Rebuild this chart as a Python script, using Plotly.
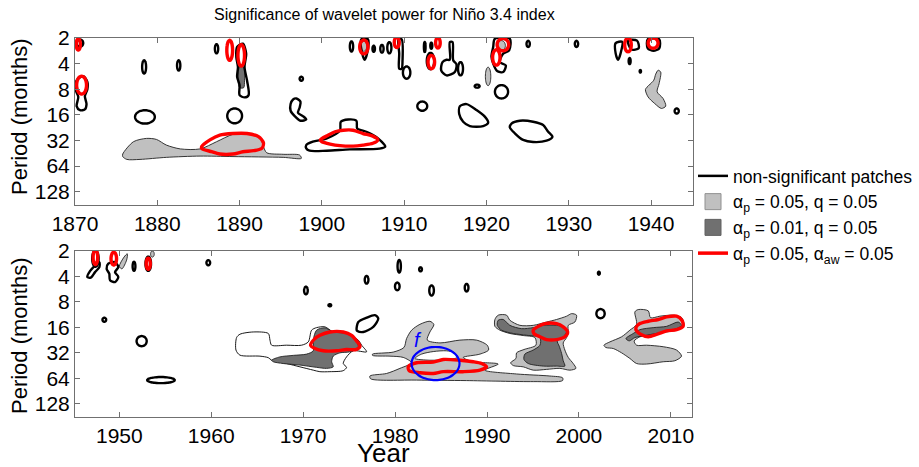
import numpy as np
import plotly.graph_objects as go

# ---------------- data: patch outlines as (year, log2(period in months)) ----------------
# ---- top panel (1870-1945)
TOP_LIGHT = [
    [(1875.8,5.53),(1877.1,5.05),(1878.7,4.92),(1879.9,4.96),(1881.1,5.18),(1882.8,5.33),(1885.2,5.33),
     (1887.2,5.05),(1889.2,4.76),(1890.9,4.72),(1892.5,4.88),(1892.9,5.24),(1893.3,5.48),(1895.3,5.54),
     (1897.3,5.57),(1897.5,5.70),(1895.3,5.66),(1889.2,5.63),(1885.2,5.61),(1881.1,5.66),(1877.9,5.74),
     (1876.3,5.74),(1875.8,5.63)],
    [(1940.86,2.26),(1941.18,2.33),(1940.98,2.78),(1940.74,3.10),(1941.46,3.36),(1941.79,3.66),(1941.26,3.75),
     (1940.45,3.56),(1939.64,3.30),(1939.32,3.01),(1939.76,2.84),(1940.33,2.65),(1940.57,2.41)],
]
TOP_LIGHT_ELL = [(1920.2,2.50,0.33,0.36),(1905.1,1.32,0.35,0.2),(1921.8,1.3,0.5,0.2)]
TOP_DARK = [
    [(1890.0,2.13),(1890.5,2.13),(1890.6,2.65),(1890.5,2.94),(1890.0,2.94),(1889.8,2.52)],
]
TOP_BLACK = [
    [(1870.2,2.65),(1871.0,2.49),(1871.5,2.71),(1871.5,3.01),(1871.2,3.27),(1871.4,3.58),(1871.2,3.79),
     (1870.6,3.82),(1870.2,3.66),(1870.4,3.30),(1870.1,3.04)],
    [(1889.7,1.35),(1890.4,1.22),(1890.8,1.61),(1890.6,2.13),(1890.9,2.65),(1891.1,3.23),(1890.6,3.32),
     (1890.0,3.23),(1890.0,2.84),(1889.7,2.52),(1889.8,2.13),(1889.6,1.74)],
    [(1896.9,3.36),(1897.4,3.49),(1897.3,3.71),(1897.1,3.92),(1897.7,4.05),(1898.1,4.18),(1897.4,4.23),
     (1896.7,4.05),(1896.2,3.84),(1896.2,3.58),(1896.5,3.40)],
    [(1898.1,5.18),(1898.9,5.05),(1900.6,4.92),(1902.2,4.62),(1902.3,4.27),(1903.2,4.18),(1904.2,4.23),
     (1904.3,4.53),(1905.4,4.66),(1906.6,4.86),(1907.7,5.24),(1907.0,5.32),(1903.4,5.35),(1900.6,5.40),
     (1898.5,5.40),(1898.1,5.31)],
    [(1915.55,1.16),(1915.88,1.16),(1915.96,1.87),(1916.36,2.03),(1916.16,2.33),(1915.15,2.46),(1914.5,2.26),
     (1914.66,1.94),(1915.15,1.85),(1915.55,1.85)],
    [(1921.02,1.03),(1922.84,1.03),(1922.76,1.48),(1922.03,1.61),(1921.63,1.94),(1922.35,2.07),(1922.03,2.33),
     (1921.3,2.29),(1920.82,2.00),(1920.61,1.72),(1920.82,1.35)],
    [(1916.77,3.66),(1917.58,3.58),(1918.79,3.81),(1919.8,4.07),(1920.21,4.31),(1919.6,4.44),(1917.98,4.44),
     (1917.17,4.27),(1916.69,3.97)],
    [(1923.04,4.34),(1924.06,4.23),(1925.67,4.27),(1926.89,4.40),(1927.5,4.66),(1928.02,4.86),(1927.3,5.01),
     (1925.67,5.06),(1924.46,4.98),(1923.45,4.72),(1922.84,4.49)],
    [(1909.3,1.05),(1909.7,1.05),(1909.8,1.9),(1909.7,2.2),(1909.4,2.2),(1909.4,1.6)],
    [(1904.8,1.05),(1905.6,1.05),(1905.5,1.6),(1905.2,1.85),(1904.9,1.6)],
    [(1935.7,1.2),(1936.5,1.15),(1936.3,1.6),(1936.0,1.85),(1935.7,1.6)],
    [(1937.2,1.1),(1938.3,1.1),(1938.5,1.4),(1937.6,1.45)],
    [(1939.6,1.05),(1941.0,1.05),(1941.0,1.4),(1940.3,1.5),(1939.6,1.4)],
]
TOP_BLACK_ELL = [
    (1878.5,4.08,1.2,0.26),(1889.4,4.04,0.9,0.29),(1878.4,2.13,0.24,0.26),(1882.6,2.07,0.2,0.2),
    (1887.2,1.42,0.2,0.18),(1897.5,2.59,0.2,0.08),(1912.2,3.66,0.6,0.18),(1903.6,1.33,0.2,0.2),
    (1906.3,1.42,0.15,0.12),(1907.3,1.42,0.2,0.15),(1908.2,1.38,0.25,0.22),(1910.3,2.35,0.45,0.24),
    (1913.2,1.9,0.45,0.32),(1916.85,2.2,0.3,0.26),(1918.87,2.88,0.3,0.06),(1921.83,3.10,0.8,0.26),
    (1925.07,1.23,0.2,0.12),(1930.94,1.23,0.2,0.12),(1937.4,1.9,0.12,0.12),(1938.7,2.3,0.08,0.05),
    (1943.12,3.85,0.25,0.1),(1870.6,1.2,0.4,0.14),(1912.5,1.35,0.1,0.2),(1913.3,1.3,0.12,0.12),
]
TOP_RED = [
    [(1885.4,5.24),(1886.4,4.98),(1887.6,4.79),(1889.2,4.73),(1890.9,4.73),(1892.3,4.85),(1892.9,5.09),
     (1892.7,5.31),(1891.7,5.40),(1890.4,5.44),(1889.2,5.53),(1887.6,5.53),(1886.6,5.44),(1885.4,5.31)],
    [(1899.8,4.98),(1900.8,4.79),(1901.6,4.66),(1902.6,4.60),(1903.8,4.60),(1905.0,4.73),(1906.2,4.83),
     (1906.8,4.98),(1906.2,5.11),(1905.0,5.18),(1903.8,5.22),(1902.2,5.20),(1901.0,5.14),(1900.0,5.05)],
]
TOP_RED_ELL = [
    (1870.8,2.84,0.6,0.35),(1870.4,1.25,0.25,0.22),(1888.8,1.48,0.35,0.39),(1890.2,1.68,0.4,0.42),
    (1905.1,1.35,0.5,0.27),(1909.1,1.17,0.3,0.2),(1913.3,1.94,0.4,0.26),(1914.1,1.19,0.28,0.2),
    (1922.0,1.26,0.7,0.24),(1921.2,1.76,0.45,0.3),(1937.2,1.27,0.4,0.27),(1940.25,1.2,0.6,0.2),
]

# ---- bottom panel (1945-2012)
BOT_OUTLINE = [
    [(1962.76,4.40),(1963.12,4.27),(1964.57,4.18),(1966.21,4.24),(1966.39,4.50),(1966.57,4.70),(1968.2,4.70),
     (1969.83,4.70),(1970.56,4.57),(1970.92,4.11),(1971.46,4.01),(1972.37,3.98),(1973.27,4.18),(1974.72,4.24),
     (1976.0,4.50),(1976.36,4.70),(1976.9,4.96),(1975.45,4.92),(1974.72,5.16),(1974.36,5.42),(1974.72,5.57),
     (1974.36,5.70),(1972.91,5.74),(1971.82,5.74),(1971.1,5.68),(1969.65,5.55),(1968.2,5.42),(1966.57,5.29),
     (1966.21,5.19),(1965.3,5.13),(1963.12,5.09),(1962.69,4.89)],
]
BOT_LIGHT = [
    [(1977.55,5.05),(1979.8,4.97),(1980.96,4.79),(1981.25,4.44),(1981.8,4.11),(1982.7,3.88),(1983.79,3.76),
     (1984.22,3.89),(1983.79,4.18),(1983.5,4.50),(1984.88,4.61),(1987.05,4.50),(1988.86,4.50),(1990.02,4.70),
     (1990.17,4.89),(1989.23,5.05),(1987.41,5.18),(1988.5,5.35),(1991.22,5.44),(1989.77,5.68),(1993.21,5.83),
     (1996.84,5.91),(1998.22,5.98),(1998.22,6.09),(1995.03,6.13),(1987.77,6.09),(1982.34,6.07),(1977.34,6.02),
     (1977.26,5.91),(1979.08,5.81),(1980.53,5.61),(1981.8,5.39),(1980.89,5.18),(1979.44,5.13),(1977.55,5.10)],
    [(1990.86,3.69),(1991.22,3.52),(1992.13,3.52),(1992.49,3.72),(1993.58,3.92),(1995.03,3.92),(1996.48,3.79),
     (1997.57,3.69),(1998.66,3.56),(1999.2,3.46),(1999.74,3.52),(1999.56,3.79),(1998.84,3.92),(1998.84,4.18),
     (1998.66,4.40),(1998.29,4.61),(1998.47,4.89),(1998.84,5.18),(1999.38,5.42),(1999.67,5.61),(1999.02,5.68),
     (1997.93,5.61),(1996.48,5.65),(1995.03,5.68),(1993.94,5.55),(1992.86,5.50),(1992.57,5.39),(1993.15,5.22),
     (1993.22,5.00),(1994.02,4.87),(1995.32,4.70),(1995.21,4.40),(1993.94,4.32),(1992.49,4.24),(1991.41,4.11),
     (1990.86,3.96)],
    [(2002.72,4.70),(2003.37,4.57),(2004.64,4.37),(2005.54,4.11),(2006.27,3.88),(2006.09,3.39),(2006.45,3.30),
     (2007.54,3.35),(2007.79,3.62),(2008.81,3.56),(2010.26,3.52),(2011.16,3.61),(2011.42,3.92),(2010.8,4.09),
     (2009.53,4.18),(2008.08,4.27),(2006.63,4.37),(2006.01,4.54),(2006.27,4.70),(2007.36,4.70),(2009.17,4.76),
     (2010.62,4.89),(2011.16,5.13),(2010.44,5.31),(2009.17,5.35),(2007.36,5.44),(2006.27,5.42),(2005.54,5.22),
     (2004.64,5.00),(2003.73,4.83),(2002.93,4.79)],
    [(1950.0,1.61),(1950.51,1.24),(1950.87,1.11),(1950.8,1.35),(1950.29,1.70)],
]
BOT_LIGHT_ELL = [(1953.6,1.12,0.2,0.12)]
BOT_WHITE = [
    [(1982.16,5.22),(1982.88,5.05),(1984.15,4.95),(1985.6,4.92),(1986.51,5.00),(1986.76,5.18),(1985.6,5.26),
     (1983.79,5.29)],
]
BOT_DARK = [
    [(1966.57,5.29),(1967.47,5.16),(1968.92,5.10),(1970.37,5.05),(1971.1,4.92),(1971.1,4.50),(1971.46,4.11),
     (1972.37,4.02),(1973.27,4.18),(1974.72,4.24),(1975.74,4.50),(1976.0,4.79),(1975.09,4.96),(1974.0,5.00),
     (1973.27,5.13),(1973.1,5.35),(1973.27,5.55),(1972.55,5.61),(1971.46,5.57),(1969.65,5.48),(1967.83,5.42),
     (1966.75,5.35)],
    [(1991.22,3.72),(1991.77,3.69),(1992.49,3.92),(1993.76,4.05),(1995.03,4.01),(1996.12,3.92),(1997.57,3.92),
     (1998.47,4.01),(1998.66,4.18),(1998.29,4.37),(1997.64,4.53),(1997.86,4.74),(1998.11,5.02),(1998.29,5.31),
     (1998.47,5.52),(1997.57,5.52),(1996.12,5.52),(1994.49,5.42),(1994.02,5.26),(1994.12,5.05),(1995.03,4.89),
     (1995.76,4.70),(1995.76,4.40),(1994.31,4.31),(1992.86,4.24),(1991.59,4.11),(1991.12,3.92)],
    [(2005.11,4.44),(2005.91,4.24),(2006.63,4.09),(2008.08,4.01),(2009.53,3.96),(2010.8,3.79),(2011.16,3.92),
     (2010.62,4.05),(2009.17,4.18),(2007.36,4.31),(2006.09,4.40),(2005.47,4.53)],
]
BOT_BLACK = [
    [(1975.81,4.09),(1976.0,3.79),(1976.9,3.62),(1977.8,3.52),(1978.17,3.65),(1977.63,3.98),(1976.54,4.18),
     (1975.9,4.14)],
    [(1946.52,2.02),(1946.81,1.79),(1947.36,1.57),(1947.83,1.44),(1947.83,1.63),(1947.36,1.83),(1946.88,2.05)],
    [(1948.8,1.50),(1949.53,1.44),(1949.89,1.63),(1949.53,1.83),(1949.89,2.02),(1949.53,2.22),(1948.99,2.15),
     (1948.91,1.89),(1948.62,1.70)],
]
BOT_BLACK_ELL = [
    (1970.3,2.55,0.2,0.15),(1972.9,3.13,0.15,0.04),(1976.9,2.13,0.2,0.15),(1980.45,1.6,0.18,0.25),
    (1980.24,2.39,0.25,0.15),(1982.77,1.72,0.15,0.08),(1983.97,2.55,0.25,0.2),(1959.68,1.46,0.2,0.1),
    (1948.37,3.70,0.2,0.08),(1952.43,4.54,0.55,0.2),(1954.53,6.07,1.5,0.12),(1951.6,1.6,0.15,0.18),
    (1987.78,2.44,0.2,0.15),(2002.17,1.87,0.1,0.06),(2002.35,3.46,0.45,0.18),(1947.4,1.3,0.35,0.32),
    (1953.15,1.5,0.3,0.28),
]
BOT_RED = [
    [(1970.81,4.70),(1971.28,4.44),(1971.82,4.31),(1972.91,4.18),(1974.36,4.18),(1975.27,4.31),(1975.81,4.53),
     (1976.18,4.74),(1975.74,4.87),(1974.72,4.87),(1973.64,4.92),(1972.19,4.92),(1971.28,4.83)],
    [(1981.43,5.55),(1982.34,5.39),(1984.15,5.36),(1985.24,5.26),(1987.05,5.29),(1988.5,5.35),(1989.41,5.42),
     (1989.95,5.55),(1989.23,5.68),(1987.41,5.74),(1985.24,5.74),(1984.15,5.81),(1982.7,5.78),(1981.54,5.70)],
    [(1995.03,4.11),(1995.57,3.96),(1996.3,3.85),(1997.57,3.85),(1998.29,3.98),(1998.77,4.18),(1998.47,4.37),
     (1997.57,4.48),(1996.48,4.48),(1995.76,4.37),(1995.1,4.24)],
    [(2006.2,4.01),(2006.63,3.85),(2007.54,3.76),(2008.63,3.69),(2009.53,3.59),(2010.62,3.56),(2011.2,3.72),
     (2011.34,3.96),(2010.62,4.09),(2009.53,4.14),(2008.52,4.27),(2007.54,4.37),(2006.7,4.27),(2006.27,4.14)],
]
BOT_RED_ELL = [(1947.4,1.25,0.25,0.28),(1949.4,1.3,0.3,0.25),(1953.15,1.5,0.22,0.22)]
# highlighted region "f": centre year, centre log2 period, half-width (years), half-height (octaves)
F_ELLIPSE = (1984.4, 5.42, 2.61, 0.65)
F_LABEL = (1982.5, 4.5)

TOP_XTICKS = [1870, 1880, 1890, 1900, 1910, 1920, 1930, 1940]
BOT_XTICKS = [1950, 1960, 1970, 1980, 1990, 2000, 2010]
PERIOD_TICKS = [2, 4, 8, 16, 32, 64, 128]

LIGHT = "#c0c0c0"
DARK = "#707070"

fig = go.Figure()


def ell(c):
    cx, cy, rx, ry = c
    t = np.linspace(0, 2 * np.pi, 41)
    return list(zip(cx + rx * np.cos(t), cy + ry * np.sin(t)))


def add(pts, ax, fill=None, color="black", width=2.5, smooth=True):
    pts = list(pts) + [pts[0]]
    x = [p[0] for p in pts]
    y = [2.0 ** p[1] for p in pts]
    kw = dict(fill="toself", fillcolor=fill) if fill else {}
    fig.add_trace(go.Scatter(
        x=x, y=y, mode="lines", xaxis="x" + ax, yaxis="y" + ax,
        line=dict(color=color, width=width, shape="spline" if smooth else "linear", smoothing=0.8),
        showlegend=False, hoverinfo="skip", **kw))


for a, light, light_e, dark, black, black_e, red, red_e, outline, white in [
    ("", TOP_LIGHT, TOP_LIGHT_ELL, TOP_DARK, TOP_BLACK, TOP_BLACK_ELL, TOP_RED, TOP_RED_ELL, [], []),
    ("2", BOT_LIGHT, BOT_LIGHT_ELL, BOT_DARK, BOT_BLACK, BOT_BLACK_ELL, BOT_RED, BOT_RED_ELL, BOT_OUTLINE, BOT_WHITE),
]:
    for p in outline:
        add(p, a, fill="white", color="black", width=0.9)
    for p in light + [ell(c) for c in light_e]:
        add(p, a, fill=LIGHT, color="#202020", width=0.9)
    for p in white:
        add(p, a, fill="white", color="#202020", width=0.9)
    for p in dark:
        add(p, a, fill=DARK, color="#202020", width=0.9)
    for p in black + [ell(c) for c in black_e]:
        add(p, a, color="black", width=2.4)
    for p in red + [ell(c) for c in red_e]:
        add(p, a, color="#ff0000", width=3.4)

# blue highlight ellipse and label
add(ell(F_ELLIPSE), "2", color="#0000ff", width=2.2)
fig.add_annotation(x=F_LABEL[0], y=np.log10(2 ** F_LABEL[1]), xref="x2", yref="y2", text="<i>f</i>",
                   showarrow=False, xanchor="center", yanchor="middle",
                   font=dict(size=20, color="#0000ff", family="Liberation Sans"))

# legend entries
lx, ly = [None], [None]
fig.add_trace(go.Scatter(x=lx, y=ly, mode="lines", line=dict(color="black", width=2.5),
                         name="non-significant patches", hoverinfo="skip"))
fig.add_trace(go.Scatter(x=lx, y=ly, mode="markers",
                         marker=dict(symbol="square", size=18, color=LIGHT, line=dict(color="#909090", width=1)),
                         name="α<sub>p</sub> = 0.05, q = 0.05", hoverinfo="skip"))
fig.add_trace(go.Scatter(x=lx, y=ly, mode="markers",
                         marker=dict(symbol="square", size=18, color=DARK, line=dict(color="#606060", width=1)),
                         name="α<sub>p</sub> = 0.01, q = 0.05", hoverinfo="skip"))
fig.add_trace(go.Scatter(x=lx, y=ly, mode="lines", line=dict(color="#ff0000", width=3.5),
                         name="α<sub>p</sub> = 0.05, α<sub>aw</sub> = 0.05", hoverinfo="skip"))

W, H = 919, 467
FONT = "Liberation Sans, Arial, sans-serif"
ax_common = dict(showline=True, linecolor="#707070", linewidth=1, mirror="ticks", ticks="inside",
                 ticklen=5, tickcolor="#707070", showgrid=False, zeroline=False, automargin=False,
                 tickfont=dict(size=21, color="black", family=FONT))
yrange = [np.log10(2 ** 7.52), np.log10(2)]
ann = dict(xref="paper", yref="paper", showarrow=False, xanchor="center", yanchor="middle")
fig.update_layout(
    width=W, height=H, margin=dict(l=0, r=0, t=0, b=0, autoexpand=False),
    paper_bgcolor="white", plot_bgcolor="white",
    font=dict(family=FONT, color="black"),
    xaxis=dict(domain=[75 / W, 693 / W], anchor="y", range=[1870, 1945.1], tickvals=TOP_XTICKS, **ax_common),
    yaxis=dict(domain=[(H - 205) / H, (H - 38) / H], anchor="x", type="log", range=yrange,
               tickvals=PERIOD_TICKS, ticktext=[str(v) for v in PERIOD_TICKS], **ax_common),
    xaxis2=dict(domain=[75 / W, 692 / W], anchor="y2", range=[1945.18, 2012.3], tickvals=BOT_XTICKS,
                **ax_common),
    yaxis2=dict(domain=[(H - 417) / H, (H - 251) / H], anchor="x2", type="log", range=yrange,
                tickvals=PERIOD_TICKS, ticktext=[str(v) for v in PERIOD_TICKS], **ax_common),
    legend=dict(x=693 / W, y=(H - 158) / H, xanchor="left", yanchor="top", bgcolor="rgba(0,0,0,0)",
                font=dict(size=17.5, color="black", family=FONT), itemwidth=30, tracegroupgap=0),
    annotations=list(fig.layout.annotations) + [
        dict(text="Significance of wavelet power for Niño 3.4 index", x=384 / W, y=(H - 14) / H,
             font=dict(size=16, color="black", family=FONT), **ann),
        dict(text="Period (months)", x=19 / W, y=(H - 117) / H, textangle=-90,
             font=dict(size=22, color="black", family=FONT), **ann),
        dict(text="Period (months)", x=19 / W, y=(H - 336) / H, textangle=-90,
             font=dict(size=22, color="black", family=FONT), **ann),
        dict(text="Year", x=383 / W, y=(H - 453) / H, font=dict(size=26, color="black", family=FONT), **ann),
    ],
)

fig.write_html("out.html")
